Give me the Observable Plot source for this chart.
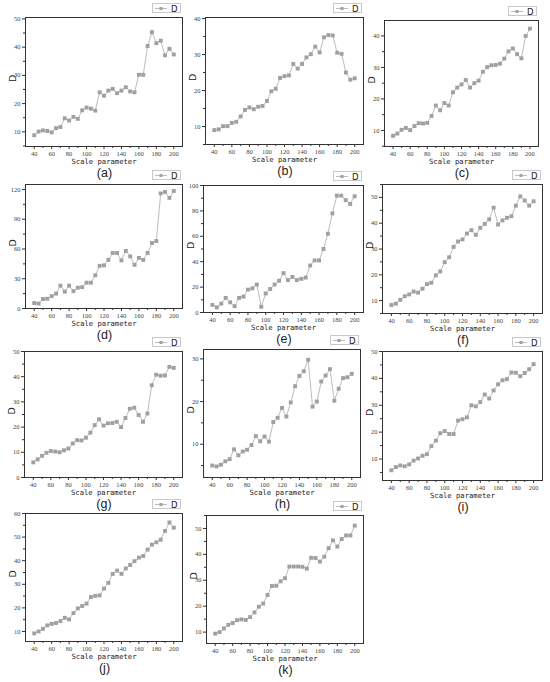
<!DOCTYPE html>
<html>
<head>
<meta charset="utf-8">
<script src="https://cdn.jsdelivr.net/npm/d3@7"></script>
<script src="https://cdn.jsdelivr.net/npm/@observablehq/plot@0.6"></script>
<style>
  html, body { margin: 0; padding: 0; background: #fff; }
  #root { position: relative; width: 550px; height: 682px; overflow: hidden; background: #fff; }
  .panel { position: absolute; }
  .legend { position: absolute; height: 10px; width: 29px; border: 1px solid #c8c8c8; background: #fff; box-sizing: border-box; }
  .legend svg { position: absolute; left: 0; top: 0; }
  .letter { position: absolute; width: 60px; text-align: center; font-family: "Liberation Sans", Arial, sans-serif; font-size: 12.5px; line-height: 14px; color: #222; }
</style>
</head>
<body>
<div id="root"></div>
<script>
// ---- data ----
const scaleParameter = [40,45,50,55,60,65,70,75,80,85,90,95,100,105,110,115,120,125,130,135,140,145,150,155,160,165,170,175,180,185,190,195,200];
const xTicks = [40,60,80,100,120,140,160,180,200];
const xMinorTicks = [50,70,90,110,130,150,170,190];

const Da = [8.8,10.1,10.5,10.3,9.8,11.3,11.7,14.8,14.0,15.3,14.6,17.6,18.6,18.2,17.5,24.0,22.8,24.6,25.2,23.7,24.6,25.8,24.3,24.0,30.2,30.2,40.4,45.3,41.4,42.3,37.1,39.4,37.4];
const Db = [9.0,9.2,10.1,10.1,11.0,11.3,12.8,14.6,15.3,14.8,15.5,15.7,17.1,19.8,20.5,23.5,24.0,24.2,27.4,26.1,27.4,29.2,30.1,32.2,30.6,34.8,35.4,35.3,30.5,30.2,25.0,23.0,23.4];
const Dc = [8.3,9.0,10.2,10.8,10.1,11.4,12.3,12.2,12.4,14.6,17.9,16.4,18.7,17.9,22.1,23.6,24.6,26.0,23.6,25.0,25.8,28.6,30.1,30.7,30.8,31.2,32.8,35.1,36.0,34.2,32.9,40.0,42.3];
const Dd = [5.5,5.0,9.5,9.8,12.5,15.0,23.0,17.0,23.0,17.5,21.0,21.5,26.0,26.0,33.5,43.0,43.5,49.0,56.0,56.0,48.5,58.0,52.5,44.0,51.0,49.0,56.0,66.0,68.0,116.0,117.5,111.5,118.5];
const De = [6.0,4.0,7.0,11.5,8.0,5.0,11.5,12.5,18.0,19.0,22.0,4.5,15.0,18.5,22.0,25.0,31.0,25.5,28.0,25.5,26.5,27.5,37.0,41.0,41.0,50.0,62.0,78.0,92.0,92.0,88.5,85.5,91.5];
const Df = [8.3,8.8,10.3,11.7,12.4,13.5,13.1,14.6,16.4,16.9,19.8,21.3,24.9,26.8,30.8,32.9,33.7,36.0,37.3,35.5,38.2,39.7,41.5,46.0,39.5,41.1,42.1,42.7,46.8,50.4,48.8,46.8,48.5];
const Dg = [6.0,7.2,8.6,9.8,10.5,10.3,10.0,10.8,11.5,13.5,14.8,14.7,15.8,17.8,20.8,23.1,20.6,21.5,21.6,22.1,20.0,23.6,27.3,27.7,24.8,22.1,25.4,36.6,40.8,40.4,40.5,43.9,43.5];
const Dh = [5.0,4.8,5.2,6.0,6.5,8.8,7.4,8.3,8.7,9.8,11.9,10.7,11.8,10.6,15.2,16.2,18.5,16.5,19.8,23.6,26.0,27.1,29.8,18.8,20.0,24.7,26.1,27.6,20.2,23.0,25.5,25.7,26.5];
const Di = [5.8,7.0,7.6,7.3,8.0,9.4,10.2,11.2,11.8,14.8,16.8,19.6,20.4,19.3,19.3,24.3,24.8,25.5,30.0,29.6,31.2,34.0,32.5,35.5,37.8,39.3,39.7,42.2,42.1,40.8,42.0,43.4,45.3];
const Dj = [9.2,10.0,11.1,12.6,13.2,13.6,14.4,15.8,15.1,17.8,19.8,20.8,21.8,24.6,25.1,25.3,28.2,30.6,34.4,35.8,34.4,36.7,38.2,39.8,41.3,42.0,44.7,46.8,47.8,48.9,52.6,56.2,54.0];
const Dk = [9.4,10.0,11.4,12.8,13.5,14.6,14.9,14.7,15.8,17.6,19.8,21.0,24.3,27.8,27.9,29.6,30.8,35.3,35.3,35.3,35.2,34.5,38.7,38.6,37.2,39.1,42.4,45.4,43.0,45.9,47.3,47.3,51.1];

const panelLetters = ["(a)","(b)","(c)","(d)","(e)","(f)","(g)","(h)","(i)","(j)","(k)"];
const yTicksA = [10,20,30,40,50];
const yTicksB = [10,20,30,40];
const yTicksC = [10,20,30,40];
const yTicksD = [0,30,60,90,120];
const yTicksE = [0,20,40,60,80,100];
const yTicksF = [10,20,30,40,50];
const yTicksG = [0,10,20,30,40,50];
const yTicksH = [10,20,30];
const yTicksI = [10,20,30,40,50];
const yTicksJ = [10,20,30,40,50,60];
const yTicksK = [10,20,30,40,50];
const xLabel = "Scale parameter";
const yLabel = "D";
const legendLabel = "D";

// ---- layout ----
const panels = [
  {D: Da, yTicks: yTicksA, yDomain: [4.8, 50.5], frame: [25, 17, 182, 146]},
  {D: Db, yTicks: yTicksB, yDomain: [5.0, 40.3], frame: [205, 17, 363, 144]},
  {D: Dc, yTicks: yTicksC, yDomain: [4.9, 44.9], frame: [384, 20, 538, 146]},
  {D: Dd, yTicks: yTicksD, yDomain: [0, 125],    frame: [25, 184, 182, 308]},
  {D: De, yTicks: yTicksE, yDomain: [0, 100],    frame: [203, 185, 363, 312]},
  {D: Df, yTicks: yTicksF, yDomain: [5, 55],     frame: [382, 184, 542, 313]},
  {D: Dg, yTicks: yTicksG, yDomain: [0, 50],     frame: [24, 351, 182, 477]},
  {D: Dh, yTicks: yTicksH, yDomain: [2.2, 32.2], frame: [203, 349, 360, 477]},
  {D: Di, yTicks: yTicksI, yDomain: [2, 50],     frame: [382, 351, 542, 480]},
  {D: Dj, yTicks: yTicksJ, yDomain: [5.75, 60],  frame: [25, 513, 182, 641]},
  {D: Dk, yTicks: yTicksK, yDomain: [5.6, 55],   frame: [206, 515, 363, 643]}
];

const ML = 28, MR = 3, MT = 3, MB = 24;
const root = document.getElementById("root");

panels.forEach((p, i) => {
  const [l, t, r, b] = p.frame;
  const data = scaleParameter.map((x, j) => ({x, D: p.D[j]}));
  const step = p.yTicks[1] - p.yTicks[0];
  const yMinor = [];
  for (let k = 0; k < p.yTicks.length + 1; k++) {
    const v = p.yTicks[0] - step / 2 + k * step;
    if (v >= p.yDomain[0] && v <= p.yDomain[1]) yMinor.push(v);
  }
  const chart = Plot.plot({
    width: r - l + ML + MR,
    height: b - t + MT + MB,
    marginLeft: ML, marginRight: MR, marginTop: MT, marginBottom: MB,
    x: {domain: [30, 210], label: null},
    y: {domain: p.yDomain, label: null},
    style: {fontFamily: "'Liberation Serif', serif", fontSize: "6.5px", background: "transparent", color: "#444", overflow: "visible"},
    marks: [
      Plot.axisX(xTicks, {tickSize: 3, tickPadding: 2, label: null, stroke: "#333"}),
      Plot.axisX(xMinorTicks, {tickSize: 2, fill: "none", label: null, stroke: "#333"}),
      Plot.axisY(p.yTicks, {tickSize: 3, tickPadding: 2, label: null, stroke: "#333"}),
      Plot.axisY(yMinor, {tickSize: 2, fill: "none", label: null, stroke: "#333"}),
      Plot.frame({stroke: "#333", strokeWidth: 1}),
      Plot.line(data, {x: "x", y: "D", stroke: "#bdbdbd", strokeWidth: 1}),
      Plot.dot(data, {x: "x", y: "D", symbol: "square", r: 2.2, fill: "#a0a0a0", stroke: "none"}),
      Plot.text([xLabel], {frameAnchor: "bottom", dy: 17.5, fontFamily: "'DejaVu Sans Mono', monospace", fontSize: 7.2, fill: "#222"}),
      Plot.text([yLabel], {frameAnchor: "left", dx: -13, rotate: -90, fontFamily: "'DejaVu Sans', sans-serif", fontSize: 9.5, fill: "#222"})
    ]
  });
  const wrap = document.createElement("div");
  wrap.className = "panel";
  wrap.style.left = (l - ML) + "px";
  wrap.style.top = (t - MT) + "px";
  wrap.appendChild(chart);
  root.appendChild(wrap);

  // legend
  const lg = document.createElement("div");
  lg.className = "legend";
  lg.style.left = (r - 30) + "px";
  lg.style.top = (t - 14) + "px";
  lg.innerHTML = `<svg width="29" height="10">
      <line x1="2" y1="4.5" x2="14" y2="4.5" stroke="#bdbdbd" stroke-width="1"/>
      <rect x="6.5" y="3" width="3" height="3" fill="#a0a0a0"/>
      <text x="18" y="8" font-family="'DejaVu Sans', sans-serif" font-size="8.5" fill="#222">${legendLabel}</text>
    </svg>`;
  root.appendChild(lg);

  // panel letter
  const lt = document.createElement("div");
  lt.className = "letter";
  lt.textContent = panelLetters[i];
  lt.style.left = ((l + r) / 2 + 1 - 30) + "px";
  lt.style.top = (b + 19.5) + "px";
  root.appendChild(lt);
});
</script>
</body>
</html>
